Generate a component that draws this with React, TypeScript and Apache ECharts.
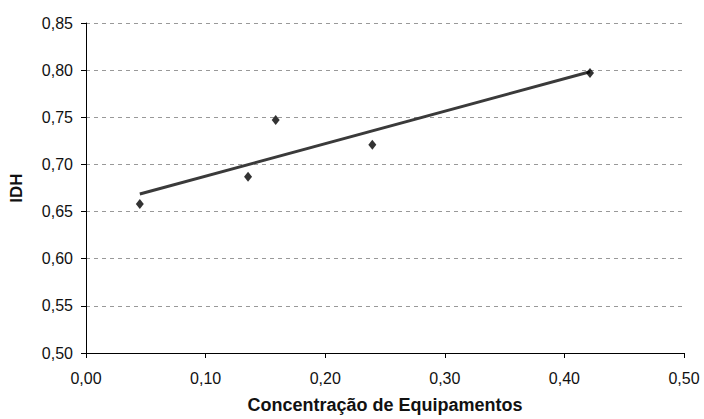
import React, { useEffect, useRef } from "react";
import * as echarts from "echarts";

const concentracao = [0.045, 0.1355, 0.1586, 0.2394, 0.4214];
const idh = [0.658, 0.687, 0.747, 0.721, 0.797];
const xTicks = { min: 0, max: 0.5, interval: 0.1 };
const yTicks = { min: 0.5, max: 0.85, interval: 0.05 };
const xName = "Concentração de Equipamentos";
const yName = "IDH";

function regression(xs: number[], ys: number[]) {
  const n = xs.length;
  const mx = xs.reduce((a, b) => a + b, 0) / n;
  const my = ys.reduce((a, b) => a + b, 0) / n;
  let sxy = 0, sxx = 0;
  for (let i = 0; i < n; i++) {
    sxy += (xs[i] - mx) * (ys[i] - my);
    sxx += (xs[i] - mx) * (xs[i] - mx);
  }
  const b = sxy / sxx;
  return { a: my - b * mx, b };
}

const fmt = (v: number) => v.toFixed(2).replace(".", ",");

export default function App() {
  const ref = useRef<HTMLDivElement>(null);
  useEffect(() => {
    if (!ref.current) return;
    const chart = echarts.init(ref.current, undefined, { renderer: "svg" });
    const { a, b } = regression(concentracao, idh);
    const xMin = Math.min(...concentracao);
    const xMax = Math.max(...concentracao);
    const trend = [
      [xMin, a + b * xMin],
      [xMax, a + b * xMax],
    ];
    const textStyle = { fontFamily: "Liberation Sans, Arial, sans-serif", color: "#111" };
    chart.setOption({
      animation: false,
      backgroundColor: "#fff",
      grid: { left: 86, right: 20, top: 23, bottom: 64 },
      xAxis: {
        type: "value",
        min: xTicks.min,
        max: xTicks.max,
        interval: xTicks.interval,
        name: xName,
        nameLocation: "middle",
        nameGap: 43,
        nameTextStyle: { ...textStyle, fontSize: 18, fontWeight: "bold" },
        axisLine: { show: true, lineStyle: { color: "#000", width: 1 } },
        axisTick: { show: true, inside: false, length: 5, lineStyle: { color: "#000" } },
        axisLabel: { ...textStyle, fontSize: 16, margin: 17, formatter: fmt },
        splitLine: { show: false },
      },
      yAxis: {
        type: "value",
        min: yTicks.min,
        max: yTicks.max,
        interval: yTicks.interval,
        name: yName,
        nameLocation: "middle",
        nameGap: 61,
        nameRotate: 90,
        nameTextStyle: { ...textStyle, fontSize: 17, fontWeight: "bold" },
        axisLine: { show: true, lineStyle: { color: "#000", width: 1 } },
        axisTick: { show: true, inside: false, length: 5, lineStyle: { color: "#000" } },
        axisLabel: { ...textStyle, fontSize: 16, margin: 13, formatter: fmt },
        splitLine: { show: true, lineStyle: { color: "#999", type: [4, 4], width: 1 } },
      },
      series: [
        {
          type: "line",
          data: trend,
          showSymbol: false,
          symbol: "none",
          lineStyle: { color: "#3a3a3a", width: 3 },
          z: 2,
        },
        {
          type: "scatter",
          data: concentracao.map((x, i) => [x, idh[i]]),
          symbol: "diamond",
          symbolSize: [8, 10],
          itemStyle: { color: "#000" },
          z: 3,
        },
      ],
    });
    return () => chart.dispose();
  }, []);
  return <div ref={ref} style={{ width: 704, height: 419, position: "absolute", left: 0, top: 0 }} />;
}
